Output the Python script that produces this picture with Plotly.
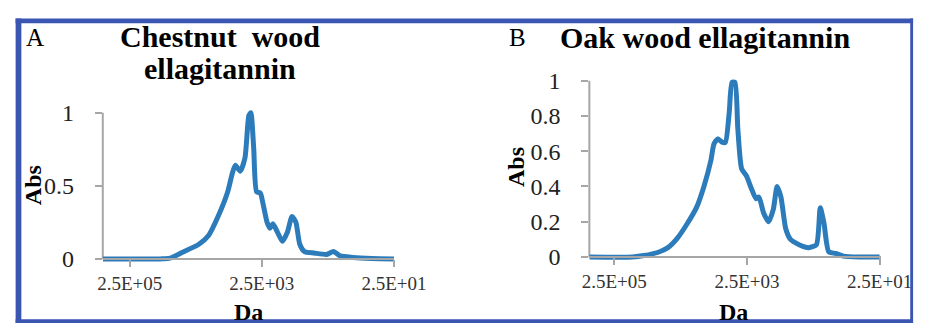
import plotly.graph_objects as go

# ---------------- data ----------------
da_a = [6.38e5, 8.6e4, 6.1e4, 3.96e4, 2.24e4, 1.6e4, 1.15e4, 8.2e3, 6.95e3, 6.28e3,
        5.31e3, 4.5e3, 3.93e3, 3.67e3, 3.32e3, 3.0e3, 2.63e3, 2.38e3, 2.08e3, 1.88e3,
        1.70e3, 1.44e3, 1.22e3, 1.03e3, 871, 762, 666, 564, 403, 261, 206, 163, 105, 54, 25]
abs_a = [0, 0, 0.005, 0.045, 0.10, 0.16, 0.29, 0.46, 0.59, 0.64,
         0.60, 0.69, 0.98, 1.0, 0.76, 0.46, 0.45, 0.37, 0.25, 0.21,
         0.24, 0.18, 0.12, 0.18, 0.29, 0.25, 0.10, 0.05, 0.04, 0.03, 0.05, 0.02, 0.01, 0.003, 0]

da_b = [5.93e5, 1.33e5, 8.9e4, 5.42e4, 3.88e4, 2.79e4, 2.0e4, 1.43e4, 1.10e4, 8.7e3,
        7.87e3, 6.89e3, 5.83e3, 5.28e3, 4.62e3, 4.19e3, 3.79e3, 3.43e3, 3.0e3, 2.54e3,
        2.15e3, 1.82e3, 1.65e3, 1.40e3, 1.18e3, 1.0e3, 877, 767, 650, 551,
        408, 293, 224, 196, 172, 146, 115, 88, 50, 25]
abs_b = [0, 0, 0.008, 0.027, 0.053, 0.107, 0.187, 0.283, 0.406, 0.55,
         0.64, 0.67, 0.65, 0.65, 0.82, 0.99, 0.99, 0.73, 0.50, 0.46,
         0.39, 0.33, 0.34, 0.25, 0.20, 0.27, 0.40, 0.34, 0.16, 0.10,
         0.07, 0.053, 0.07, 0.28, 0.19, 0.03, 0.02, 0.005, 0, 0]

x_tickvals = [2.5e5, 2.5e3, 2.5e1]
x_ticktext = ["2.5E+05", "2.5E+03", "2.5E+01"]
ya_tickvals = [0, 0.5, 1]
ya_ticktext = ["0", "0.5", "1"]
yb_tickvals = [0, 0.2, 0.4, 0.6, 0.8, 1]
yb_ticktext = ["0", "0.2", "0.4", "0.6", "0.8", "1"]

title_a1 = "Chestnut  wood"
title_a2 = "ellagitannin"
title_b = "Oak wood ellagitannin"

# ---------------- layout helpers ----------------
W, H = 948, 333
def px(x):
    return x / W
def py(y):
    return 1 - y / H

LINE = "#2C7BBA"
AXC = "#A6A6A6"
BORDER = "#3B55B3"
SERIF = "Liberation Serif"
YPAD = 0.025

fig = go.Figure()
fig.add_trace(go.Scatter(x=da_a, y=abs_a, mode="lines", xaxis="x", yaxis="y",
                         line=dict(color=LINE, width=5, shape="spline", smoothing=0.6),
                         showlegend=False, hoverinfo="skip"))
fig.add_trace(go.Scatter(x=da_b, y=abs_b, mode="lines", xaxis="x2", yaxis="y2",
                         line=dict(color=LINE, width=5, shape="spline", smoothing=0.6),
                         showlegend=False, hoverinfo="skip"))

def ydom(p0, p1):
    u = (p0 - p1)  # pixels per unit
    return [py(p0 + YPAD * u), py(p1 - YPAD * u)]

xcommon = dict(type="log", tickvals=x_tickvals, ticktext=x_ticktext, ticks="outside",
               ticklen=7, tickwidth=1.5, tickcolor=AXC, showline=True, linecolor=AXC,
               linewidth=2, showgrid=False, zeroline=False, anchor="free",
               tickfont=dict(family=SERIF, size=19, color="#333333"))
ycommon = dict(range=[-YPAD, 1 + YPAD], ticks="outside", ticklen=7, tickwidth=1.5,
               tickcolor=AXC, showline=False, showgrid=False, zeroline=False,
               ticklabelstandoff=16,
               tickfont=dict(family=SERIF, size=24, color="#222222"))

fig.update_layout(
    width=W, height=H, autosize=False,
    margin=dict(l=0, r=0, t=0, b=0),
    paper_bgcolor="white", plot_bgcolor="white",
    xaxis=dict(xcommon, domain=[px(100), px(404)], range=[5.805, 1.398], position=py(265)),
    yaxis=dict(ycommon, domain=ydom(265, 110), anchor="x", tickvals=ya_tickvals, ticktext=ya_ticktext),
    xaxis2=dict(xcommon, domain=[px(608), px(912)], range=[5.773, 1.384], position=py(263)),
    yaxis2=dict(ycommon, domain=ydom(263, 76), anchor="x2", tickvals=yb_tickvals, ticktext=yb_ticktext),
)

shapes = []
# y axis lines
for xr, yr in (("x domain", "y"), ("x2 domain", "y2")):
    shapes.append(dict(type="line", xref=xr, yref=yr, x0=0, x1=0, y0=0, y1=1,
                       line=dict(color=AXC, width=2), layer="below"))
# frame border
for (x0, y0, x1, y1) in ((9, 10, 15, 333), (9, 10, 946, 15), (943, 10, 946, 333), (9, 329, 946, 333)):
    shapes.append(dict(type="rect", xref="paper", yref="paper",
                       x0=px(x0), x1=px(x1), y0=py(y1), y1=py(y0),
                       fillcolor=BORDER, line=dict(width=0), layer="above"))
fig.update_layout(shapes=shapes)

def ann(text, x, y, size, bold=False, xanchor="center", angle=0):
    return dict(text=f"<b>{text}</b>" if bold else text, x=px(x), y=py(y), xref="paper", yref="paper",
                xanchor=xanchor, yanchor="middle", showarrow=False, textangle=angle,
                font=dict(family=SERIF, size=size, color="#000000"))

fig.update_layout(annotations=[
    ann("A", 18, 30, 25, xanchor="left"),
    ann(title_a1, 222, 29, 30, bold=True),
    ann(title_a2, 222, 63, 30, bold=True),
    ann("B", 522, 30, 25, xanchor="left"),
    ann(title_b, 729, 30, 30, bold=True),
    ann("Abs", 27, 187, 24, bold=True, angle=-90),
    ann("Abs", 532, 168, 24, bold=True, angle=-90),
    ann("Da", 252, 321, 24, bold=True),
    ann("Da", 758, 321, 24, bold=True),
])

fig.write_html("out.html")
